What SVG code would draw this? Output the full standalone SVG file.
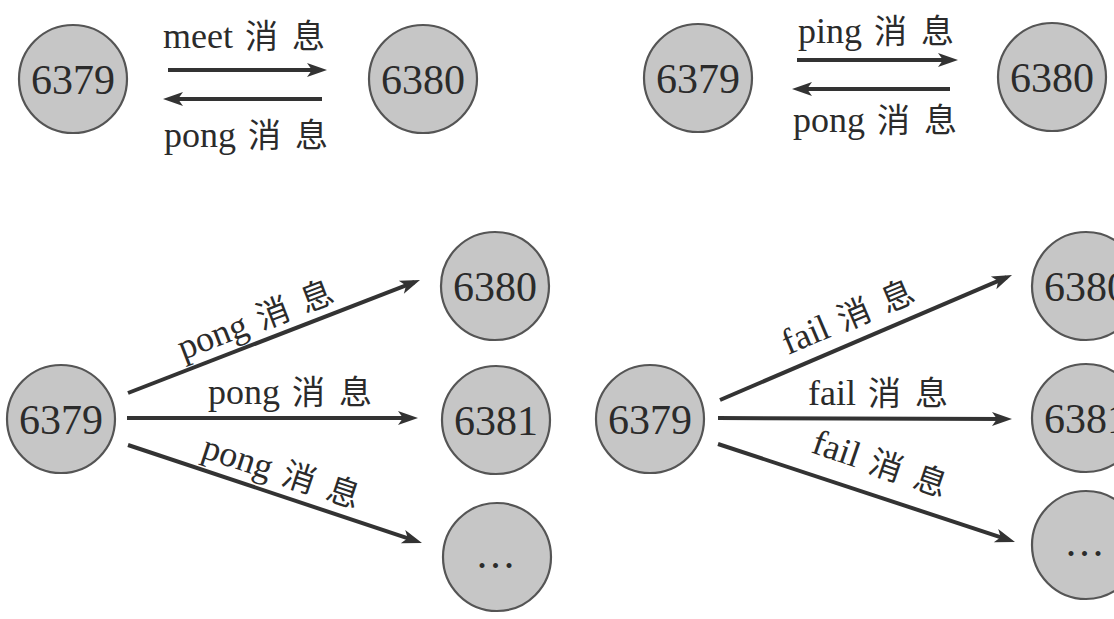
<svg xmlns="http://www.w3.org/2000/svg" width="1114" height="619" viewBox="0 0 1114 619">
<style>
  .node circle { fill: #c6c6c6; stroke: #555; stroke-width: 2.2; }
  .node text { font-family: "Liberation Serif", serif; font-size: 42px; fill: #2b2b2b; text-anchor: middle; }
  .lbl { font-family: "Liberation Serif", "Noto Sans CJK SC", serif; font-size: 36px; fill: #2b2b2b; }
  .cj { font-family: "Noto Sans CJK SC", sans-serif; font-size: 33px; }
  .conn path { stroke: #333; stroke-width: 4; fill: none; marker-end: url(#ah); }
</style>
<defs>
  <marker id="ah" markerUnits="userSpaceOnUse" markerWidth="22" markerHeight="16" refX="14" refY="7" orient="auto" overflow="visible">
    <path d="M0,0 L20,7 L0,14 L5,7 z" fill="#333"/>
  </marker>
</defs>
<rect width="1114" height="619" fill="#fff"/>

<!-- top-left -->
<g id="tl-6379" class="node"><circle cx="73" cy="79" r="54"/><text x="73" y="94">6379</text></g>
<g id="tl-6380" class="node"><circle cx="423" cy="79" r="54"/><text x="423" y="94">6380</text></g>
<!-- top-right -->
<g id="tr-6379" class="node"><circle cx="698" cy="78" r="54"/><text x="698" y="93">6379</text></g>
<g id="tr-6380" class="node"><circle cx="1052" cy="77" r="54"/><text x="1052" y="92">6380</text></g>
<!-- bottom-left -->
<g id="bl-6379" class="node"><circle cx="61" cy="419" r="54"/><text x="61" y="434">6379</text></g>
<g id="bl-6380" class="node"><circle cx="495" cy="286" r="54"/><text x="495" y="301">6380</text></g>
<g id="bl-6381" class="node"><circle cx="496" cy="420" r="54"/><text x="496" y="435">6381</text></g>
<g id="bl-more" class="node"><circle cx="497" cy="557" r="54"/><text x="497" y="568" letter-spacing="3">...</text></g>
<!-- bottom-right -->
<g id="br-6379" class="node"><circle cx="650" cy="419" r="54"/><text x="650" y="434">6379</text></g>
<g id="br-6380" class="node"><circle cx="1086" cy="286" r="54"/><text x="1086" y="301">6380</text></g>
<g id="br-6381" class="node"><circle cx="1086" cy="418" r="54"/><text x="1086" y="433">6381</text></g>
<g id="br-more" class="node"><circle cx="1086" cy="545" r="54"/><text x="1086" y="556" letter-spacing="3">...</text></g>

<g id="connectors" class="conn">
  <path d="M168,70 L321,70"/>
  <path d="M322,99 L169,99"/>
  <path d="M797,60 L952,60"/>
  <path d="M950,89 L798,89"/>
  <path d="M128,393 L414.4,282.2"/>
  <path d="M127,418 L412,418"/>
  <path d="M128,445 L416.3,541.1"/>
  <path d="M720,400 L1006.5,277.4"/>
  <path d="M718,418 L1006,419"/>
  <path d="M718,444 L1009.3,540.1"/>
</g>

<g id="labels">
  <text class="lbl" x="163" y="48">meet <tspan class="cj" dx="3">消</tspan> <tspan class="cj" dx="5">息</tspan></text>
  <text class="lbl" x="164" y="147">pong <tspan class="cj" dx="3">消</tspan> <tspan class="cj" dx="5">息</tspan></text>
  <text class="lbl" x="798" y="43">ping <tspan class="cj" dx="3">消</tspan> <tspan class="cj" dx="5">息</tspan></text>
  <text class="lbl" x="793" y="132">pong <tspan class="cj" dx="3">消</tspan> <tspan class="cj" dx="5">息</tspan></text>
  <text class="lbl" transform="translate(183,360) rotate(-21)">pong <tspan class="cj" dx="3">消</tspan> <tspan class="cj" dx="5">息</tspan></text>
  <text class="lbl" x="208" y="404">pong <tspan class="cj" dx="3">消</tspan> <tspan class="cj" dx="5">息</tspan></text>
  <text class="lbl" transform="translate(200,457) rotate(18.4)">pong <tspan class="cj" dx="3">消</tspan> <tspan class="cj" dx="5">息</tspan></text>
  <text class="lbl" transform="translate(788,355) rotate(-23)">fail <tspan class="cj" dx="3">消</tspan> <tspan class="cj" dx="5">息</tspan></text>
  <text class="lbl" x="808" y="405">fail <tspan class="cj" dx="3">消</tspan> <tspan class="cj" dx="5">息</tspan></text>
  <text class="lbl" transform="translate(810,452) rotate(19)">fail <tspan class="cj" dx="3">消</tspan> <tspan class="cj" dx="5">息</tspan></text>
</g>
</svg>
